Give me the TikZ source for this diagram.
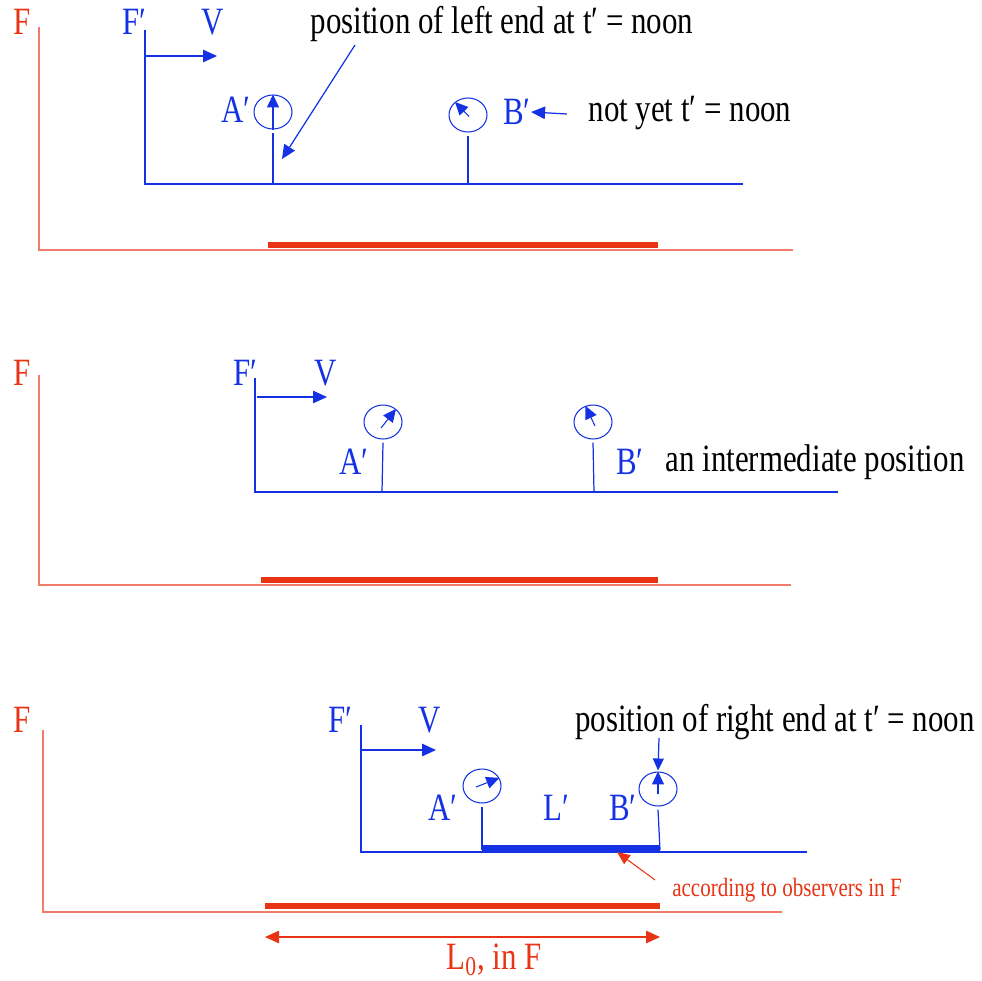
\documentclass[tikz,border=0pt]{standalone}
\usepackage{fontspec}
\setmainfont{Liberation Serif}[FakeStretch=0.8]
\usetikzlibrary{arrows.meta,shapes.geometric}
\definecolor{fred}{RGB}{232,52,20}
\definecolor{lred}{RGB}{240,125,105}
\definecolor{fblue}{RGB}{20,50,228}

\begin{document}
\begin{tikzpicture}[x=0.02cm,y=-0.02cm]
\tikzset{every node/.style={inner sep=0pt},
  big/.style={font=\fontsize{22}{26}\selectfont},
  lbl/.style={big,text=fblue},
  rlbl/.style={big,text=fred},
  blu/.style={draw=fblue,line width=0.7pt},
  frame/.style={draw=lred,line width=0.7pt},
  rod/.style={draw=fred,line width=3.2pt},
  clock/.style={ellipse,draw=fblue,line width=0.6pt,minimum width=0.76cm,minimum height=0.68cm},
  hand/.style={draw=fblue,line width=0.6pt,-{Triangle[length=0.26cm,width=0.24cm]}},
  ptr/.style={draw=fblue,line width=0.7pt,-{Triangle[length=0.28cm,width=0.25cm]}}}
\useasboundingbox (0,0) rectangle (982,980);

% first position
\node[rlbl] (f1) at (22,22) {F};
\draw[frame] (39,27) -- (39,250) -- (793,250);
\draw[rod] (268,245) -- (658,245);
\node[lbl] (fp1) at (134,22) {F′};
\node[lbl] (v1) at (213,22) {V};
\draw[blu] (145,30) -- (145,184) -- (743,184);
\draw[ptr] (145,56) -- (217,56);
\node[clock] (ca1) at (273,112) {};
\draw[hand] (ca1.south) -- (ca1.north);
\draw[blu] ([yshift=-0.06cm]ca1.south) -- (273,184);
\node[lbl] (la1) at (236,110) {A′};
\node[clock] (cb1) at (468,115) {};
\draw[hand] ([shift={(0.02cm,-0.03cm)}]cb1.center) -- (cb1.135);
\draw[blu] ([yshift=-0.06cm]cb1.south) -- (468,184);
\node[lbl] (lb1) at (517,112) {B′};
\node[big] (t1) at (502,24) {position of left end at t′ = noon};
\coordinate (pa1) at (282,159);
\draw[ptr] (355,45) -- (pa1);
\node[big] (t2) at (690,113) {not yet t′ = noon};
\draw[ptr] (567,114) -- (lb1.east);

% intermediate position
\node[rlbl] (f2) at (22,373) {F};
\draw[frame] (39,375) -- (39,585) -- (791,585);
\draw[rod] (261,580) -- (658,580);
\node[lbl] (fp2) at (245,373) {F′};
\node[lbl] (v2) at (326,373) {V};
\draw[blu] (255,378) -- (255,492) -- (838,492);
\draw[ptr] (257,397) -- (327,397);
\node[clock] (ca2) at (383,422) {};
\draw[hand] ([shift={(-0.04cm,-0.12cm)}]ca2.center) -- (ca2.45);
\draw[blu] ([yshift=-0.06cm]ca2.south) -- (382,492);
\node[lbl] (la2) at (354,462) {A′};
\node[clock] (cb2) at (593,422) {};
\draw[hand] ([shift={(0.04cm,-0.08cm)}]cb2.center) -- (cb2.115);
\draw[blu] ([yshift=-0.06cm]cb2.south) -- (594,492);
\node[lbl] (lb2) at (630,462) {B′};
\node[big] (t3) at (815,462) {an intermediate position};

% third position
\node[rlbl] (f3) at (22,720) {F};
\draw[frame] (43,730) -- (43,912) -- (782,912);
\draw[rod] (265,906) -- (660,906);
\coordinate (l0a) at (265,937);
\coordinate (l0b) at (660,937);
\draw[draw=fred,line width=0.7pt,{Triangle[length=0.28cm,width=0.25cm]}-{Triangle[length=0.28cm,width=0.25cm]}] (l0a) -- (l0b);
\node[rlbl] (l0) at (494,960) {L\textsubscript{0}, in F};
\node[lbl] (fp3) at (340,720) {F′};
\node[lbl] (v3) at (430,720) {V};
\draw[blu] (361,725) -- (361,852) -- (807,852);
\draw[ptr] (361,750) -- (436,750);
\node[clock] (ca3) at (482,786) {};
\draw[hand] ([shift={(-0.12cm,-0.02cm)}]ca3.center) -- (ca3.25);
\draw[blu] ([yshift=-0.06cm]ca3.south) -- (482,850);
\node[lbl] (la3) at (443,808) {A′};
\node[lbl] (ll3) at (556,808) {L′};
\node[lbl] (lb3) at (623,808) {B′};
\draw[draw=fblue,line width=3pt] (482,848) -- (660,848);
\node[clock] (cb3) at (658,789) {};
\draw[hand] ([yshift=-0.1cm]cb3.center) -- (cb3.north);
\draw[blu] ([yshift=-0.06cm]cb3.south) -- (660,850);
\node[big] (t4) at (775,722) {position of right end at t′ = noon};
\draw[draw=fblue,line width=0.7pt,-{Triangle[length=0.24cm,width=0.22cm]}] (659,738) -- ([yshift=0.02cm]cb3.north);
\node[font=\fontsize{15}{18}\selectfont,text=fred] (t5) at (787,890) {according to observers in F};
\coordinate (pl3) at (617,852);
\draw[draw=fred,line width=0.6pt,-{Triangle[length=0.26cm,width=0.22cm]}] (655,880) -- (pl3);
\end{tikzpicture}
\end{document}
